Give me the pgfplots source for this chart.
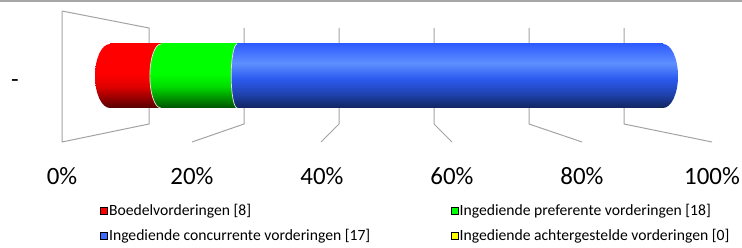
\documentclass[border=0pt]{standalone}
\usepackage{pgfplots}
\pgfplotsset{compat=1.18}
\usepackage{fontspec}
\setmainfont{Carlito}

\definecolor{gridgray}{HTML}{A3A3A3}
\definecolor{bordergray}{HTML}{A6A6A6}
\definecolor{legred}{HTML}{FF0000}
\definecolor{leggreen}{HTML}{00FF00}
\definecolor{legblue}{HTML}{3D6BFF}
\definecolor{legyellow}{HTML}{FFFF00}
\definecolor{capedge}{HTML}{E6E6E6}
\definecolor{rtop}{HTML}{FF0000}
\definecolor{rmid}{HTML}{E00000}
\definecolor{rbot}{HTML}{560000}
\definecolor{gtop}{HTML}{00FF00}
\definecolor{gmid}{HTML}{00DD00}
\definecolor{gbot}{HTML}{005200}
\definecolor{btop}{HTML}{2E5CFF}
\definecolor{bhi}{HTML}{5E90FF}
\definecolor{bmid}{HTML}{2C5AF0}
\definecolor{blow}{HTML}{1F42AE}
\definecolor{bbot}{HTML}{11255E}

\pgfdeclareverticalshading{redcyl}{100bp}{color(0bp)=(rbot); color(25bp)=(rbot); color(42bp)=(rmid); color(52bp)=(rtop); color(75bp)=(rtop); color(100bp)=(rtop)}
\pgfdeclareverticalshading{greencyl}{100bp}{color(0bp)=(gbot); color(25bp)=(gbot); color(42bp)=(gmid); color(52bp)=(gtop); color(75bp)=(gtop); color(100bp)=(gtop)}
\pgfdeclareverticalshading{bluecyl}{100bp}{color(0bp)=(bbot); color(25bp)=(bbot); color(36bp)=(blow); color(48bp)=(bmid); color(60bp)=(bhi); color(75bp)=(btop); color(100bp)=(btop)}

% cylinder end caps, drawn as plot marks at the segment boundaries
\pgfdeclareplotmark{capred}{\shade[shading=redcyl, draw=none] (0bp,0bp) ellipse [x radius=15bp, y radius=32bp];}
\pgfdeclareplotmark{capgreen}{\shade[shading=greencyl, draw=none] (0bp,0bp) ellipse [x radius=11bp, y radius=32bp];
  \draw[capedge, line width=0.7bp, fill=none] (0bp,32bp) arc[start angle=90, end angle=270, x radius=11bp, y radius=32bp];}
\pgfdeclareplotmark{capblue}{\shade[shading=bluecyl, draw=none] (0bp,0bp) ellipse [x radius=6bp, y radius=32bp];
  \draw[capedge, line width=0.7bp, fill=none] (0bp,32bp) arc[start angle=90, end angle=270, x radius=6bp, y radius=32bp];}
\pgfdeclareplotmark{capend}{\shade[shading=bluecyl, draw=none] (0bp,0bp) ellipse [x radius=15bp, y radius=32bp];}

\begin{document}
\begin{tikzpicture}
\useasboundingbox (0,0) rectangle (742bp,248bp);

% frame, walls, gridlines and labels (picture-sized axis, 1 unit = 1bp)
\begin{axis}[
  at={(0,0)}, anchor=south west, scale only axis,
  width=742bp, height=248bp,
  xmin=0, xmax=742, ymin=0, ymax=248,
  clip=false,
  axis line style={draw=none}, tick style={draw=none},
  xtick={62,192,322,452,582,712},
  xticklabels={0\%,20\%,40\%,60\%,80\%,100\%},
  xticklabel style={anchor=base, yshift=63bp, font=\fontsize{25}{30}\selectfont},
  ytick={169}, yticklabels={-},
  yticklabel style={anchor=base, xshift=15bp, yshift=-9bp, font=\fontsize{25}{30}\selectfont},
  legend columns=2,
  legend cell align=left,
  legend image code/.code={\fill[#1] (0bp,-3.5bp) rectangle (7bp,3.5bp);},
  legend style={at={(axis cs:100,45.5)}, anchor=north west, draw=none, fill=none,
    inner sep=0pt, font=\fontsize{15.7}{18}\selectfont,
    /tikz/every even column/.append style={column sep=79bp},
    row sep=9bp, nodes={inner sep=1.5bp}},
]
\addplot[bordergray, line width=2bp, forget plot] coordinates {(0,247) (742,247)};
\addplot[gridgray, line width=1bp, forget plot] coordinates {(62,237) (149,220) (149,124) (62,106) (62,237)};
\addplot[gridgray, line width=1bp, forget plot] coordinates {(192,106) (244,124) (244,220)};
\addplot[gridgray, line width=1bp, forget plot] coordinates {(321,106) (339,124) (339,220)};
\addplot[gridgray, line width=1bp, forget plot] coordinates {(452,106) (434,124) (434,220)};
\addplot[gridgray, line width=1bp, forget plot] coordinates {(582,106) (529,124) (529,220)};
\addplot[gridgray, line width=1bp, forget plot] coordinates {(712,106) (624,124) (624,220)};
\addlegendimage{fill=legred}
\addlegendentry{Boedelvorderingen [8]}
\addlegendimage{fill=leggreen}
\addlegendentry{Ingediende preferente vorderingen [18]}
\addlegendimage{fill=legblue}
\addlegendentry{Ingediende concurrente vorderingen [17]}
\addlegendimage{fill=legyellow}
\addlegendentry{Ingediende achtergestelde vorderingen [0]}
\end{axis}

% the cylinder bar body (values in percent)
\begin{axis}[
  at={(110bp,140bp)}, anchor=south west, scale only axis,
  width=553bp, height=64bp,
  xmin=0, xmax=100, ymin=-0.5, ymax=0.5,
  hide axis, clip=false,
  xbar stacked, bar width=64bp,
]
\addplot[draw=none, shading=redcyl] coordinates {(9.2,0)};
\addplot[draw=none, shading=greencyl] coordinates {(13.8,0)};
\addplot[draw=none, shading=bluecyl] coordinates {(77.0,0)};
\end{axis}

% the cylinder caps at the cumulative segment boundaries (0, 9.2, 23.0, 100)
\begin{axis}[
  at={(110bp,140bp)}, anchor=south west, scale only axis,
  width=553bp, height=64bp,
  xmin=0, xmax=100, ymin=-0.5, ymax=0.5,
  hide axis, clip=false,
]
\addplot[only marks, draw=none, mark=capred] coordinates {(0,0)};
\addplot[only marks, draw=none, mark=capgreen] coordinates {(9.2,0)};
\addplot[only marks, draw=none, mark=capblue] coordinates {(23.0,0)};
\addplot[only marks, draw=none, mark=capend] coordinates {(100,0)};
\end{axis}
\end{tikzpicture}
\end{document}
